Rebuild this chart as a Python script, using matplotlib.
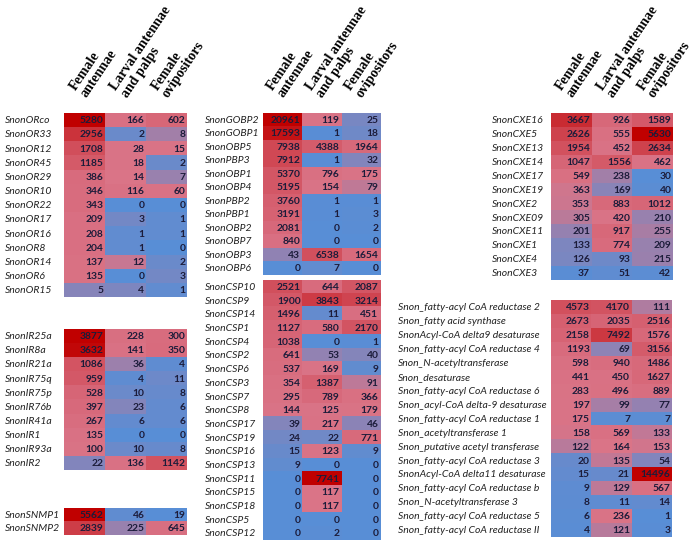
import numpy as np
import matplotlib
matplotlib.use("Agg")
import matplotlib.pyplot as plt
import matplotlib.transforms as mtransforms
from matplotlib.colors import to_rgb

W, H = 700, 545

tissues = ["Female\nantennae", "Larval antennae\nand palps", "Female\novipositors"]

or_names = ["SnonORco", "SnonOR33", "SnonOR12", "SnonOR45", "SnonOR29", "SnonOR10",
            "SnonOR22", "SnonOR17", "SnonOR16", "SnonOR8", "SnonOR14", "SnonOR6", "SnonOR15"]
or_vals = [[5280, 166, 602], [2956, 2, 8], [1708, 28, 15], [1185, 18, 2], [386, 14, 7],
           [346, 116, 60], [343, 0, 0], [209, 3, 1], [208, 1, 1], [204, 1, 0],
           [137, 12, 2], [135, 0, 3], [5, 4, 1]]

ir_names = ["SnonIR25a", "SnonIR8a", "SnonIR21a", "SnonIR75q", "SnonIR75p", "SnonIR76b",
            "SnonIR41a", "SnonIR1", "SnonIR93a", "SnonIR2"]
ir_vals = [[3877, 228, 300], [3632, 141, 350], [1086, 36, 4], [959, 4, 11], [528, 10, 8],
           [397, 23, 6], [267, 6, 6], [135, 0, 0], [100, 10, 8], [22, 136, 1142]]

snmp_names = ["SnonSNMP1", "SnonSNMP2"]
snmp_vals = [[5562, 46, 19], [2839, 225, 645]]

obp_names = ["SnonGOBP2", "SnonGOBP1", "SnonOBP5", "SnonPBP3", "SnonOBP1", "SnonOBP4",
             "SnonPBP2", "SnonPBP1", "SnonOBP2", "SnonOBP7", "SnonOBP3", "SnonOBP6"]
obp_vals = [[20961, 119, 25], [17593, 1, 18], [7938, 4388, 1964], [7912, 1, 32],
            [5370, 796, 175], [5195, 154, 79], [3760, 1, 1], [3191, 1, 3], [2081, 0, 2],
            [840, 0, 0], [43, 6538, 1654], [0, 7, 0]]

csp_names = ["SnonCSP10", "SnonCSP9", "SnonCSP14", "SnonCSP1", "SnonCSP4", "SnonCSP2",
             "SnonCSP6", "SnonCSP3", "SnonCSP7", "SnonCSP8", "SnonCSP17", "SnonCSP19",
             "SnonCSP16", "SnonCSP13", "SnonCSP11", "SnonCSP15", "SnonCSP18", "SnonCSP5",
             "SnonCSP12"]
csp_vals = [[2521, 644, 2087], [1900, 3843, 3214], [1496, 11, 451], [1127, 580, 2170],
            [1038, 0, 1], [641, 53, 40], [537, 169, 9], [354, 1387, 91], [295, 789, 366],
            [144, 125, 179], [39, 217, 46], [24, 22, 771], [15, 123, 9], [9, 0, 0],
            [0, 7741, 0], [0, 117, 0], [0, 117, 0], [0, 0, 0], [0, 2, 0]]

cxe_names = ["SnonCXE16", "SnonCXE5", "SnonCXE13", "SnonCXE14", "SnonCXE17", "SnonCXE19",
             "SnonCXE2", "SnonCXE09", "SnonCXE11", "SnonCXE1", "SnonCXE4", "SnonCXE3"]
cxe_vals = [[3667, 926, 1589], [2626, 555, 5630], [1954, 452, 2634], [1047, 1556, 462],
            [549, 238, 30], [363, 169, 40], [353, 883, 1012], [305, 420, 210],
            [201, 917, 255], [133, 774, 209], [126, 93, 215], [37, 51, 42]]

fa_names = ["Snon_fatty-acyl CoA reductase 2", "Snon_fatty acid synthase",
            "SnonAcyl-CoA delta9 desaturase", "Snon_fatty-acyl CoA reductase 4",
            "Snon_N-acetyltransferase", "Snon_desaturase",
            "Snon_fatty-acyl CoA reductase 6", "Snon_acyl-CoA delta-9 desaturase",
            "Snon_fatty-acyl CoA reductase 1", "Snon_acetyltransferase 1",
            "Snon_putative acetyl transferase", "Snon_fatty-acyl CoA reductase 3",
            "SnonAcyl-CoA delta11 desaturase", "Snon_fatty-acyl CoA reductase b",
            "Snon_N-acetyltransferase 3", "Snon_fatty-acyl CoA reductase 5",
            "Snon_fatty-acyl CoA reductase II"]
fa_vals = [[4573, 4170, 111], [2673, 2035, 2516], [2158, 7492, 1576], [1193, 69, 3156],
           [598, 940, 1486], [441, 450, 1627], [283, 496, 889], [197, 99, 77],
           [175, 7, 7], [158, 569, 133], [122, 164, 153], [20, 135, 54], [15, 21, 14496],
           [9, 129, 567], [8, 11, 14], [6, 236, 1], [4, 121, 3]]

LOW = np.array(to_rgb("#588ed6"))
MID = np.array(to_rgb("#da7487"))
HIGH = np.array(to_rgb("#c00000"))


def colour_scale(arr):
    # excel style 3 colour scale: min / 50th percentile / max
    lo, mid, hi = arr.min(), np.percentile(arr, 50), arr.max()
    out = np.zeros(arr.shape + (3,))
    for idx, v in np.ndenumerate(arr):
        if v <= mid:
            t = 0 if mid == lo else (v - lo) / (mid - lo)
            out[idx] = LOW + (MID - LOW) * t
        else:
            t = (v - mid) / (hi - mid)
            out[idx] = MID + (HIGH - MID) * t
    return out


fig = plt.figure(figsize=(W / 100, H / 100), dpi=100)


def table(names, vals, left, top, right, bottom, label_x, header=False):
    ax = fig.add_axes([left / W, 1 - bottom / H, (right - left) / W, (bottom - top) / H])
    arr = np.array(vals, dtype=float)
    n = len(names)
    ax.imshow(colour_scale(arr), aspect="auto", interpolation="nearest",
              extent=(0, 3, n, 0))
    ax.set_xlim(0, 3)
    ax.set_ylim(n, 0)
    ax.axis("off")
    for i in range(n):
        for j in range(3):
            ax.text(j + 0.96, i + 0.55, f"{int(vals[i][j])}", ha="right", va="center",
                    fontsize=7.4, fontweight="bold", color="#1c1c3a", family="Lato")
    trans = mtransforms.blended_transform_factory(fig.transFigure, ax.transData)
    for i, name in enumerate(names):
        ax.text(label_x / W, i + 0.55, name, transform=trans, ha="left", va="center",
                fontsize=7.5, style="italic", color="#222222", family="Lato")
    if header:
        # header anchor sits a few pixels above the table top
        hdr = mtransforms.offset_copy(ax.transData, fig=fig, x=0, y=13, units="dots")
        for j, t in enumerate(tissues):
            ax.text(j + 0.6, 0, t, transform=hdr, ha="left", va="bottom", rotation=56,
                    rotation_mode="anchor", fontsize=10, fontweight="bold",
                    family="Liberation Serif", linespacing=1.0, clip_on=False)
    return ax


table(or_names, or_vals, 64, 113, 187, 297, 5, header=True)
table(ir_names, ir_vals, 64, 329, 187, 470, 5)
table(snmp_names, snmp_vals, 64, 508, 187, 535, 5)
table(obp_names, obp_vals, 263, 113, 380, 275, 205, header=True)
table(csp_names, csp_vals, 263, 280, 380, 540, 205)
table(cxe_names, cxe_vals, 551, 113, 673, 280, 492, header=True)
table(fa_names, fa_vals, 551, 300, 672, 537, 398)

fig.savefig("out.png", dpi=100)
